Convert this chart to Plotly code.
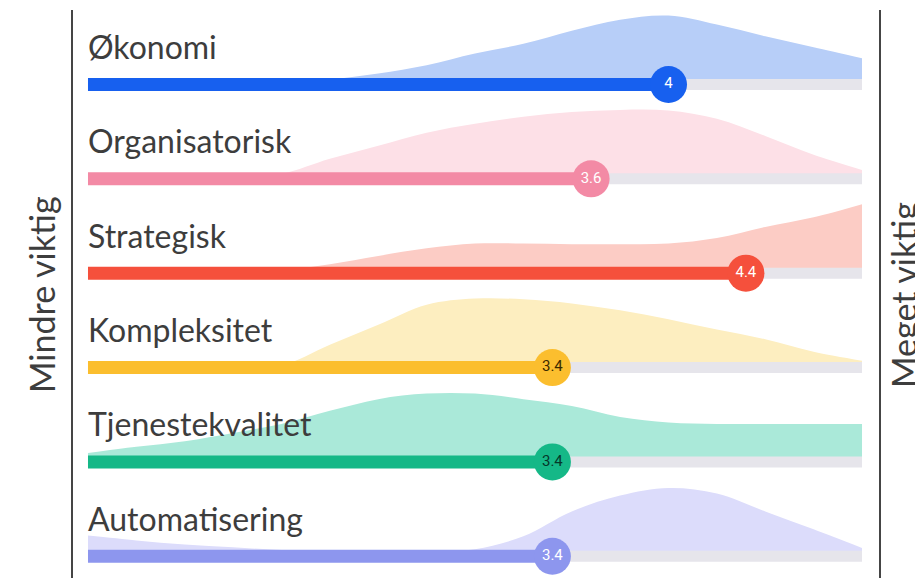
import plotly.graph_objects as go

# ---- data ----
categories = ["Økonomi", "Organisatorisk", "Strategisk", "Kompleksitet", "Tjenestekvalitet", "Automatisering"]
scores = [4.0, 3.6, 4.4, 3.4, 3.4, 3.4]
score_labels = ["4", "3.6", "4.4", "3.4", "3.4", "3.4"]

# density sample grid (scale 1..5) and relative density per category (peak = 1)
grid = [1.0, 1.25, 1.5, 1.75, 2.0, 2.25, 2.5, 2.75, 3.0, 3.25, 3.5, 3.75, 4.0, 4.25, 4.5, 4.75, 5.0]
dens_okonomi = [0, 0, 0, 0, 0, 0.07, 0.16, 0.28, 0.45, 0.59, 0.78, 0.94, 1.0, 0.87, 0.70, 0.54, 0.38]
dens_organisatorisk = [0, 0, 0, 0, 0.07, 0.29, 0.48, 0.67, 0.80, 0.90, 0.97, 1.0, 0.99, 0.87, 0.62, 0.35, 0.13]
dens_strategisk = [0, 0, 0, 0, 0.04, 0.13, 0.25, 0.36, 0.43, 0.43, 0.42, 0.42, 0.43, 0.51, 0.67, 0.81, 1.0]
dens_kompleksitet = [0, 0, 0, 0, 0.03, 0.33, 0.62, 0.91, 1.0, 0.99, 0.93, 0.83, 0.70, 0.55, 0.41, 0.23, 0.10]
dens_tjeneste = [0.13, 0.22, 0.30, 0.42, 0.55, 0.74, 0.91, 0.99, 0.99, 0.91, 0.81, 0.65, 0.57, 0.55, 0.55, 0.55, 0.55]
dens_automatisering = [0.30, 0.23, 0.17, 0.13, 0.09, 0.06, 0.06, 0.06, 0.10, 0.29, 0.65, 0.88, 0.99, 0.91, 0.65, 0.39, 0.12]
densities = [dens_okonomi, dens_organisatorisk, dens_strategisk, dens_kompleksitet, dens_tjeneste, dens_automatisering]

scale_min, scale_max = 1, 5
left_label = "Mindre viktig"
right_label = "Meget viktig"

# ---- styles ----
bar_colors = ["#1760ef", "#f38aa5", "#f5503c", "#fbbe2e", "#15b887", "#8d96ee"]
dens_colors = ["#b7cef8", "#fde0e7", "#fcccc5", "#fdeec0", "#aae9d9", "#dcdcfb"]
text_colors = ["#ffffff", "#ffffff", "#ffffff", "#3a2a00", "#06372a", "#ffffff"]
track_color = "#e6e5eb"
label_color = "#3d3d3d"
peak_height = 0.731   # row units
label_offset = 0.403  # row units

fig = go.Figure()

for i, cat in enumerate(categories):
    y0 = -i
    d = densities[i]
    fig.add_trace(go.Scatter(x=grid, y=[y0] * len(grid), mode="lines",
                             line=dict(width=0, color=dens_colors[i]),
                             hoverinfo="skip", showlegend=False))
    fig.add_trace(go.Scatter(x=grid, y=[y0 + v * peak_height for v in d], mode="lines",
                             line=dict(width=0, color=dens_colors[i], shape="spline", smoothing=1.0),
                             fill="tonexty", fillcolor=dens_colors[i],
                             hoverinfo="skip", showlegend=False))
    fig.add_trace(go.Scatter(x=[scale_min, scale_max], y=[y0, y0], mode="lines",
                             line=dict(width=11, color=track_color),
                             hoverinfo="skip", showlegend=False))
    fig.add_trace(go.Scatter(x=[scale_min, scores[i]], y=[y0, y0], mode="lines",
                             line=dict(width=13, color=bar_colors[i]),
                             hoverinfo="skip", showlegend=False))
    fig.add_trace(go.Scatter(x=[scores[i]], y=[y0], mode="markers+text",
                             marker=dict(size=37, color=bar_colors[i], line=dict(width=0)),
                             text=[score_labels[i]], textposition="middle center",
                             textfont=dict(family="Roboto", size=15, color=text_colors[i]),
                             hoverinfo="skip", showlegend=False))
    fig.add_annotation(x=scale_min, y=y0 + label_offset, xref="x", yref="y",
                       text=cat, showarrow=False, xanchor="left", yanchor="middle",
                       xshift=-2,
                       font=dict(family="Lato", size=32, color=label_color))

# the page places the figure 8px from the top-left corner
W, H = 915, 570
OFF = 8
fig.add_annotation(x=(41 - OFF) / W, y=1 - (295 - OFF) / H, xref="paper", yref="paper", text=left_label,
                   textangle=-90, showarrow=False, xanchor="center", yanchor="middle",
                   font=dict(family="Lato", size=34, color=label_color))
fig.add_annotation(x=(903 - OFF) / W, y=1 - (295 - OFF) / H, xref="paper", yref="paper", text=right_label,
                   textangle=-90, showarrow=False, xanchor="center", yanchor="middle",
                   font=dict(family="Lato", size=34, color=label_color))

for xp in (72, 880):
    fig.add_shape(type="line", xref="paper", yref="paper",
                  x0=(xp - OFF) / W, x1=(xp - OFF) / W, y0=1 - 2 / H, y1=0,
                  line=dict(color="#454545", width=2))

fig.update_layout(
    width=W, height=H, autosize=False,
    margin=dict(l=0, r=0, t=0, b=0),
    paper_bgcolor="white", plot_bgcolor="white",
    xaxis=dict(range=[0.5866, 5.3152], visible=False, fixedrange=True),
    yaxis=dict(range=[-5.2305, 0.8108], visible=False, fixedrange=True),
    showlegend=False,
)

fig.write_html("out.html")
